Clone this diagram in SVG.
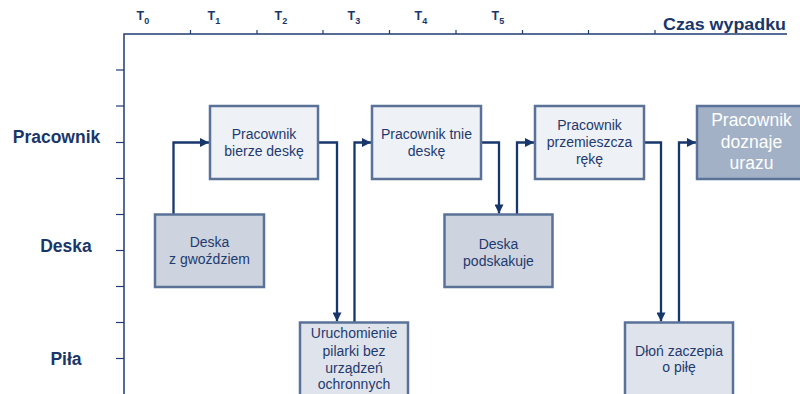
<svg xmlns="http://www.w3.org/2000/svg" width="800" height="394" viewBox="0 0 800 394">
  <defs>
    <marker id="arrow" viewBox="0 0 10 10" refX="10" refY="5" markerWidth="10" markerHeight="9" markerUnits="userSpaceOnUse" orient="auto">
      <path d="M0,0 L10,5 L0,10 Z" fill="#17366b"/>
    </marker>
    <style>
      .axis { stroke: #1f3d73; stroke-width: 1.5; fill: none; }
      .tick { stroke: #1f3d73; stroke-width: 1.2; }
      .tlabel { font-family: "Liberation Sans", Arial, sans-serif; font-weight: bold; font-size: 12.5px; fill: #1a3668; }
      .tsub { font-size: 9px; }
      .lane { font-family: "Liberation Sans", Arial, sans-serif; font-weight: bold; font-size: 17.5px; fill: #1a3668; text-anchor: middle; }
      .box { stroke: #5a7198; stroke-width: 2.5; }
      .light { fill: #eef1f6; }
      .mid { fill: #dfe4ec; }
      .dark { fill: #cdd4df; }
      .final { fill: #a3b1c7; }
      .txt { font-family: "Liberation Sans", Arial, sans-serif; font-size: 14px; fill: #1f3a6e; text-anchor: middle; }
      .txt-final { font-family: "Liberation Sans", Arial, sans-serif; font-size: 17.5px; fill: #ffffff; text-anchor: middle; }
      .conn { stroke: #17366b; stroke-width: 2.3; fill: none; }
    </style>
  </defs>

  <rect width="800" height="394" fill="#ffffff"/>

  <!-- Time axis -->
  <g id="time-axis">
    <path class="axis" d="M124,394 V34 H787"/>
    <g class="tick">
      <line x1="190.5" y1="30" x2="190.5" y2="34"/>
      <line x1="257" y1="30" x2="257" y2="34"/>
      <line x1="323" y1="30" x2="323" y2="34"/>
      <line x1="389.5" y1="30" x2="389.5" y2="34"/>
      <line x1="456" y1="30" x2="456" y2="34"/>
      <line x1="522.5" y1="30" x2="522.5" y2="34"/>
      <line x1="588.5" y1="30" x2="588.5" y2="34"/>
      <line x1="655" y1="30" x2="655" y2="34"/>
    </g>
    <g class="tick">
      <line x1="116" y1="70" x2="124" y2="70"/>
      <line x1="116" y1="106" x2="124" y2="106"/>
      <line x1="116" y1="142.5" x2="124" y2="142.5"/>
      <line x1="116" y1="178.5" x2="124" y2="178.5"/>
      <line x1="116" y1="214.5" x2="124" y2="214.5"/>
      <line x1="116" y1="250.5" x2="124" y2="250.5"/>
      <line x1="116" y1="286.5" x2="124" y2="286.5"/>
      <line x1="116" y1="322.5" x2="124" y2="322.5"/>
      <line x1="116" y1="358.5" x2="124" y2="358.5"/>
    </g>
    <text class="tlabel" x="136.5" y="20">T<tspan class="tsub" dy="4">0</tspan></text>
    <text class="tlabel" x="207.5" y="20">T<tspan class="tsub" dy="4">1</tspan></text>
    <text class="tlabel" x="274.5" y="20">T<tspan class="tsub" dy="4">2</tspan></text>
    <text class="tlabel" x="347.5" y="20">T<tspan class="tsub" dy="4">3</tspan></text>
    <text class="tlabel" x="414.5" y="20">T<tspan class="tsub" dy="4">4</tspan></text>
    <text class="tlabel" x="491.5" y="20">T<tspan class="tsub" dy="4">5</tspan></text>
    <text x="663" y="30" font-family="Liberation Sans, Arial, sans-serif" font-weight="bold" font-size="17" fill="#1a3668" textLength="123" lengthAdjust="spacingAndGlyphs">Czas wypadku</text>
  </g>

  <!-- Lane labels -->
  <g id="lanes">
    <text class="lane" x="56.5" y="143">Pracownik</text>
    <text class="lane" x="66" y="251.5">Deska</text>
    <text class="lane" x="66" y="365">Piła</text>
  </g>

  <!-- Connectors -->
  <g id="connectors">
    <path class="conn" d="M173.5,214 V142.5 H209" marker-end="url(#arrow)"/>
    <path class="conn" d="M318,142.5 H337 V321.5" marker-end="url(#arrow)"/>
    <path class="conn" d="M354.5,322 V142.5 H371" marker-end="url(#arrow)"/>
    <path class="conn" d="M481,142.5 H499 V213.5" marker-end="url(#arrow)"/>
    <path class="conn" d="M517,214 V142.5 H534" marker-end="url(#arrow)"/>
    <path class="conn" d="M644,142.5 H661 V321.5" marker-end="url(#arrow)"/>
    <path class="conn" d="M679,322 V142.5 H696" marker-end="url(#arrow)"/>
  </g>

  <!-- Nodes -->
  <g id="node-bierze">
    <rect class="box light" x="210" y="106" width="108" height="73"/>
    <text class="txt" x="264" y="138.5">Pracownik</text>
    <text class="txt" x="264" y="155.5">bierze deskę</text>
  </g>
  <g id="node-gwozdz">
    <rect class="box dark" x="155" y="214.5" width="109" height="72.5"/>
    <text class="txt" x="209.5" y="247">Deska</text>
    <text class="txt" x="209.5" y="264">z gwoździem</text>
  </g>
  <g id="node-pilarka">
    <rect class="box mid" x="300" y="322.5" width="108" height="80"/>
    <text class="txt" x="354" y="338">Uruchomienie</text>
    <text class="txt" x="354" y="355.5">pilarki bez</text>
    <text class="txt" x="354" y="372.5">urządzeń</text>
    <text class="txt" x="354" y="389">ochronnych</text>
  </g>
  <g id="node-tnie">
    <rect class="box light" x="372" y="106" width="109" height="73"/>
    <text class="txt" x="426.5" y="138.5">Pracownik tnie</text>
    <text class="txt" x="426.5" y="155.5">deskę</text>
  </g>
  <g id="node-podskakuje">
    <rect class="box dark" x="444.5" y="214.5" width="108" height="72.5"/>
    <text class="txt" x="498.5" y="248.5">Deska</text>
    <text class="txt" x="498.5" y="265.5">podskakuje</text>
  </g>
  <g id="node-przemieszcza">
    <rect class="box light" x="535" y="106" width="109" height="73"/>
    <text class="txt" x="589.5" y="130">Pracownik</text>
    <text class="txt" x="589.5" y="147">przemieszcza</text>
    <text class="txt" x="589.5" y="163.5">rękę</text>
  </g>
  <g id="node-dlon">
    <rect class="box mid" x="625" y="322.5" width="108" height="80"/>
    <text class="txt" x="679" y="355.5">Dłoń zaczepia</text>
    <text class="txt" x="679" y="372">o piłę</text>
  </g>
  <g id="node-uraz">
    <rect class="box final" x="697" y="106" width="109" height="73"/>
    <text class="txt-final" x="751.5" y="126">Pracownik</text>
    <text class="txt-final" x="751.5" y="147.5">doznaje</text>
    <text class="txt-final" x="751.5" y="169">urazu</text>
  </g>
</svg>
